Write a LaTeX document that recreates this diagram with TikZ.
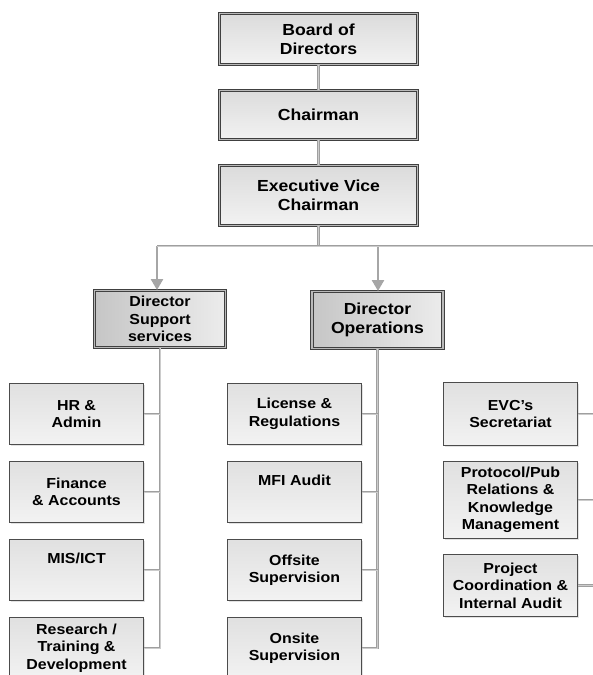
\documentclass[tikz,border=0pt]{standalone}
\usepackage{fontspec}
\setmainfont[FakeStretch=1.1]{Liberation Sans}
\usetikzlibrary{arrows.meta,shadows}
\begin{document}
\begin{tikzpicture}[x=1pt,y=-1pt,
  every node/.style={align=center, inner sep=0pt, text=black},
  topbox/.style={draw=black!75, line width=0.9pt, double=gray!55, double distance=1.3pt,
    top color=gray!28, bottom color=gray!10, minimum width=198pt,
    font=\fontsize{16}{18.7}\selectfont\bfseries},
  dirbox/.style={draw=black!75, line width=0.9pt, double=gray!55, double distance=1.3pt,
    left color=gray!45, right color=gray!15, minimum width=131pt, minimum height=57pt},
  unitbox/.style={draw=black!70, line width=1.2pt, top color=gray!24, bottom color=gray!10,
    minimum width=134pt, drop shadow={shadow xshift=1pt, shadow yshift=-1pt, fill=gray!45},
    font=\fontsize{14.5}{17.5}\selectfont\bfseries},
  conn/.style={draw=gray!75, line width=0.8pt, double=gray!40, double distance=1pt},
  arr/.style={draw=gray!70, line width=2.4pt, -{Triangle[width=12pt,length=11pt]}}
]
\useasboundingbox (0,0) rectangle (593,675);
\clip (0,0) rectangle (593,675);
% top chain
\node[topbox, minimum height=51pt] (bod) at (318.5,39) {Board of\\Directors};
\node[topbox, minimum height=49pt] (chair) at (318.5,115) {Chairman};
\node[topbox, minimum height=60pt] (evc) at (318.5,195.5) {Executive Vice\\Chairman};
% directors
\node[dirbox, font=\fontsize{14.5}{17.5}\selectfont\bfseries] (dss) at (160,319) {Director\\Support\\services};
\node[dirbox, font=\fontsize{16}{19}\selectfont\bfseries] (dop) at (377.5,320) {Director\\Operations};
% left column
\node[unitbox, minimum height=61pt] (hr) at (76.5,414) {HR \&\\Admin};
\node[unitbox, minimum height=61pt] (fin) at (76.5,492) {Finance\\\& Accounts};
\node[unitbox, minimum height=61pt] (mis) at (76.5,570) {MIS/ICT\\\strut};
\node[unitbox, minimum height=61pt] (rtd) at (76.5,648) {Research /\\Training \&\\Development};
% middle column
\node[unitbox, minimum height=61pt] (lic) at (294.5,414) {License \&\\Regulations};
\node[unitbox, minimum height=61pt] (mfi) at (294.5,492) {MFI Audit\\\strut};
\node[unitbox, minimum height=61pt] (off) at (294.5,570) {Offsite\\Supervision};
\node[unitbox, minimum height=61pt] (ons) at (294.5,648) {Onsite\\Supervision};
% right column
\node[unitbox, minimum height=63pt] (sec) at (510.5,414) {EVC's\\Secretariat};
\node[unitbox, minimum height=77pt] (ppr) at (510.5,500) {Protocol/Pub\\Relations \&\\Knowledge\\Management};
\node[unitbox, minimum height=62pt] (pci) at (510.5,585.5) {Project\\Coordination \&\\Internal Audit};
% connectors
\coordinate (j) at (318.5,246);
\coordinate (jl) at (157,246);
\coordinate (jm) at (378,246);
\coordinate (jr) at (593,246);
\draw[conn] (bod) -- (chair);
\draw[conn] (chair) -- (evc);
\draw[conn] (evc.south) -- (j);
\draw[arr] (jl) -- (jl |- dss.north);
\draw[arr] (jm) -- (jm |- dop.north);
\draw[conn] (jl) -- (jr);
% left branch
\draw[conn] (dss.south) -- (dss.south |- rtd.east) -- (rtd.east);
\draw[conn] (hr.east) -- (hr.east -| dss.south);
\draw[conn] (fin.east) -- (fin.east -| dss.south);
\draw[conn] (mis.east) -- (mis.east -| dss.south);
% middle branch
\draw[conn] (dop.south) -- (dop.south |- ons.east) -- (ons.east);
\draw[conn] (lic.east) -- (lic.east -| dop.south);
\draw[conn] (mfi.east) -- (mfi.east -| dop.south);
\draw[conn] (off.east) -- (off.east -| dop.south);
% right branch
\draw[conn] (sec.east) -- (sec.east -| jr);
\draw[conn] (ppr.east) -- (ppr.east -| jr);
\draw[conn] (pci.east) -- (pci.east -| jr);
\end{tikzpicture}
\end{document}
